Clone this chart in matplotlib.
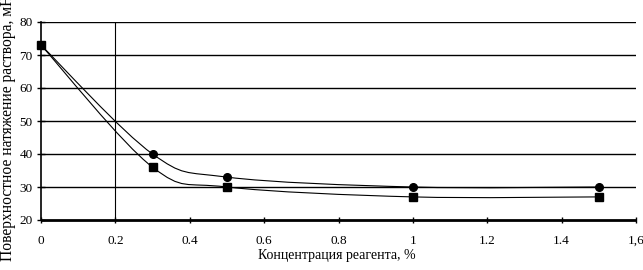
import matplotlib
matplotlib.use("Agg")
import matplotlib.pyplot as plt
from matplotlib.path import Path
from matplotlib.patches import PathPatch
import numpy as np

conc = [0, 0.3, 0.5, 1.0, 1.5]
series_circle = [73, 40, 33, 30, 30]
series_square = [73, 36, 30, 27, 27]
xticks = [0, 0.2, 0.4, 0.6, 0.8, 1.0, 1.2, 1.4, 1.6]
xticklabels = ["0", "0.2", "0.4", "0.6", "0.8", "1", "1.2", "1.4", "1,6"]
yticks = [20, 30, 40, 50, 60, 70, 80]

plt.rcParams['font.family'] = ['Liberation Serif', 'DejaVu Serif']

W, H = 643, 270
fig = plt.figure(figsize=(W/100, H/100), dpi=100)
L, R, T, B = 41, 636, 22, 220
ax = fig.add_axes([L/W, 1-B/H, (R-L)/W, (B-T)/H])
ax.set_xlim(0, 1.6)
ax.set_ylim(20, 80)

for y in yticks[1:]:
    ax.axhline(y, color='black', lw=1.0, zorder=1)
ax.axvline(0.2, color='black', lw=0.8, zorder=1)

def smooth_path(xs, ys):
    pts = np.column_stack([xs, ys]).astype(float)
    n = len(pts)
    verts = [pts[0]]
    codes = [Path.MOVETO]
    for i in range(n-1):
        p0 = pts[i-1] if i > 0 else pts[i]
        p1 = pts[i]
        p2 = pts[i+1]
        p3 = pts[i+2] if i+2 < n else pts[i+1]
        c1 = p1 + (p2 - p0)/6.0
        c2 = p2 - (p3 - p1)/6.0
        verts += [c1, c2, p2]
        codes += [Path.CURVE4]*3
    return Path(verts, codes)

for ys, mk, ms in [(series_circle, 'o', 5.5), (series_square, 's', 6)]:
    ax.add_patch(PathPatch(smooth_path(conc, ys), fill=False, edgecolor='black', lw=0.8, zorder=3))
    ax.plot(conc, ys, linestyle='none', marker=mk, ms=ms, color='black', zorder=4, clip_on=False)

ax.spines['top'].set_visible(False)
ax.spines['right'].set_visible(False)
ax.spines['bottom'].set_linewidth(2.0)
ax.spines['bottom'].set_capstyle('butt')
ax.spines['left'].set_linewidth(1.2)
ax.set_xticks(xticks)
ax.set_xticklabels(xticklabels)
ax.set_yticks(yticks)
ax.tick_params(axis='x', direction='inout', length=5, width=1, labelsize=9.5, pad=8)
ax.tick_params(axis='y', direction='inout', length=6, width=1, labelsize=9.5, pad=3)

fig.text(337/W, 1-255/H, "Концентрация реагента, %", ha='center', va='center', fontsize=10)
fig.text(8/W, 1-121/H, "Поверхностное натяжение раствора, мН/м", ha='center', va='center',
         rotation=90, fontsize=11.2)

fig.savefig("out.png", dpi=100)
